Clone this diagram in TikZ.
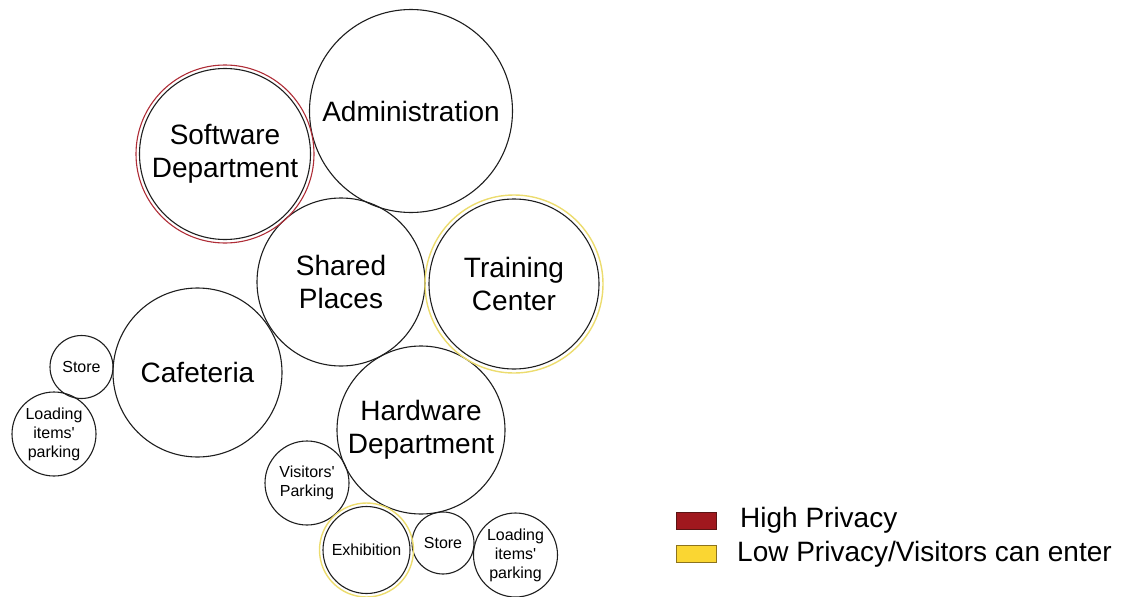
\documentclass[tikz,border=0pt]{standalone}
\usepackage{fontspec}
\setmainfont{Liberation Sans}
\usetikzlibrary{positioning}
\definecolor{bubbledark}{RGB}{30,30,30}
\definecolor{bubblered}{RGB}{175,45,55}
\definecolor{bubbleyellow}{RGB}{236,220,110}
\definecolor{keyred}{RGB}{160,24,30}
\definecolor{keyredline}{RGB}{90,20,20}
\definecolor{keyyellow}{RGB}{250,214,50}
\definecolor{keyyellowline}{RGB}{140,115,30}
\tikzset{
  room/.style={
    circle,
    draw=bubbledark,
    line width=1.1pt,
    inner sep=0pt,
    align=center,
    font=\fontsize{28}{33}\selectfont,
  },
  small room/.style={
    room,
    font=\fontsize{16}{19}\selectfont,
  },
  high ring/.style={draw=bubblered, line width=1.1pt},
  low ring/.style={draw=bubbleyellow, line width=1.4pt},
  key box/.style={
    rectangle,
    minimum width=40pt,
    minimum height=17pt,
    line width=1pt,
    inner sep=0pt,
  },
  key text/.style={inner sep=0pt, font=\fontsize{28}{32}\selectfont},
}

\begin{document}
\begin{tikzpicture}[x=1pt,y=-1pt]
  \useasboundingbox (0,0) rectangle (1136,597);

  \node[room, minimum size=203pt] (admin) at (411,111) {Administration};
  \node[room, minimum size=171pt] (soft) at (225,154) {Software\\Department};
  \node[room, minimum size=168pt] (shared) at (341,282) {Shared\\Places};
  \node[room, minimum size=170pt] (train) at (514,284) {Training\\Center};
  \node[room, minimum size=169pt] (cafe) at (197.5,372.5) {Cafeteria};
  \node[room, minimum size=168pt] (hard) at (421,430) {Hardware\\Department};

  \node[small room, minimum size=63pt] (storeleft) at (81.5,367) {Store};
  \node[small room, minimum size=84pt] (loadleft) at (54,434) {Loading\\items\textquotesingle\\parking};
  \node[small room, minimum size=84pt] (visitors) at (307,483) {Visitors\textquotesingle\\Parking};
  \node[small room, minimum size=87pt] (expo) at (366.5,550) {Exhibition};
  \node[small room, minimum size=62pt] (storebottom) at (443,543) {Store};
  \node[small room, minimum size=84pt] (loadbottom) at (515.5,555) {Loading\\items\textquotesingle\\parking};

  \draw[high ring] (soft.center) circle[radius=89];
  \draw[low ring] (train.center) circle[radius=89];
  \draw[low ring] (expo.center) circle[radius=47];

  \node[key box, fill=keyred, draw=keyredline] (highkey) at (696.5,520.5) {};
  \node[key box, fill=keyyellow, draw=keyyellowline] (lowkey) at (696.5,554) {};
  \node[key text, right=23pt of highkey] (hightext) {High Privacy};
  \node[key text, right=20pt of lowkey] (lowtext) {Low Privacy/Visitors can enter};
\end{tikzpicture}
\end{document}
